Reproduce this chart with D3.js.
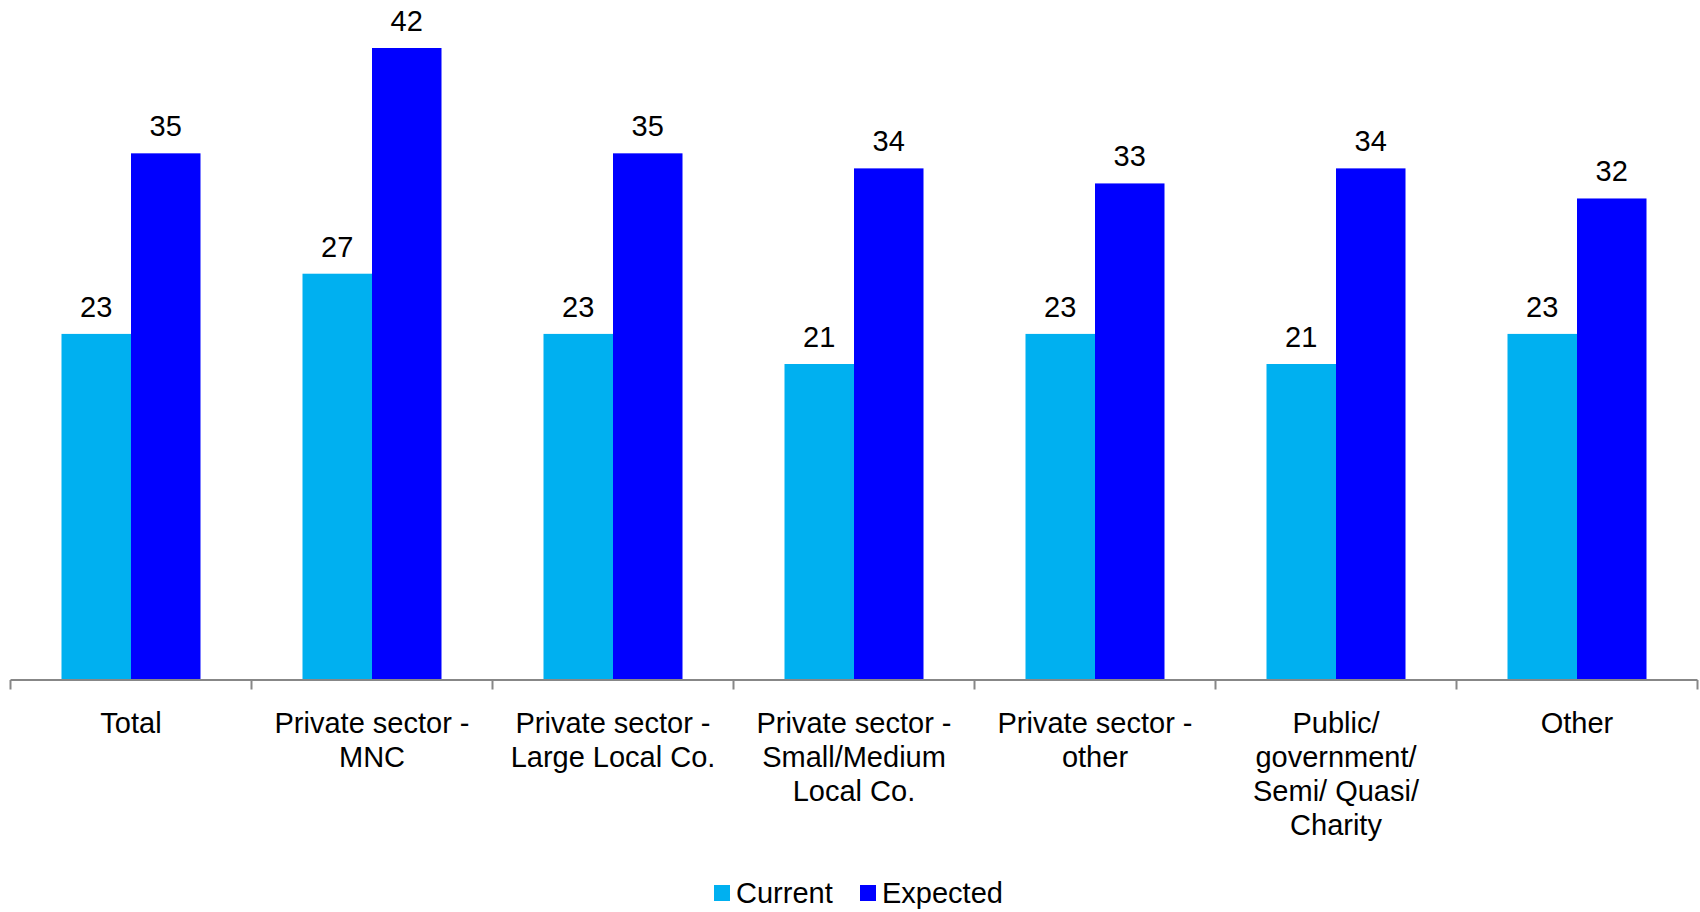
<!DOCTYPE html>
<html>
<head>
<meta charset="utf-8">
<script src="https://cdn.jsdelivr.net/npm/d3@7"></script>
<style>
  html, body { margin: 0; padding: 0; background: #ffffff; }
  svg { display: block; font-family: "Liberation Sans", Arial, sans-serif; }
</style>
</head>
<body>
<svg id="chart" width="1700" height="912"></svg>
<script>
// Sector categories (each label split into its display lines)
const categories = [
  "Total",
  "Private sector - MNC",
  "Private sector - Large Local Co.",
  "Private sector - Small/Medium Local Co.",
  "Private sector - other",
  "Public/ government/ Semi/ Quasi/ Charity",
  "Other"
];
const categoryLines = [
  ["Total"],
  ["Private sector -", "MNC"],
  ["Private sector -", "Large Local Co."],
  ["Private sector -", "Small/Medium", "Local Co."],
  ["Private sector -", "other"],
  ["Public/", "government/", "Semi/ Quasi/", "Charity"],
  ["Other"]
];
const seriesNames = ["Current", "Expected"];
const currentValues = [23, 27, 23, 21, 23, 21, 23];
const expectedValues = [35, 42, 35, 34, 33, 34, 32];
const seriesColors = ["#00B0F0", "#0000FF"];

const rows = categories.map((c, i) => ({
  category: c,
  values: [
    { series: seriesNames[0], value: currentValues[i] },
    { series: seriesNames[1], value: expectedValues[i] }
  ]
}));

const svg = d3.select("#chart");

const baseY = 680;
const x0 = d3.scaleBand().domain(categories).range([10.5, 1697.5]).paddingInner(0).paddingOuter(0);
const step = x0.bandwidth();
const groupWidth = 139;
const x1 = d3.scaleBand().domain(seriesNames)
  .range([(step - groupWidth) / 2, (step + groupWidth) / 2]).padding(0);
const y = d3.scaleLinear().domain([0, 42]).range([baseY, 48]);
const color = d3.scaleOrdinal().domain(seriesNames).range(seriesColors);

// Bars
const groups = svg.append("g").selectAll("g.group")
  .data(rows).join("g")
  .attr("class", "group")
  .attr("transform", d => `translate(${x0(d.category)},0)`);

groups.selectAll("rect")
  .data(d => d.values).join("rect")
  .attr("x", d => x1(d.series))
  .attr("y", d => y(d.value))
  .attr("width", x1.bandwidth())
  .attr("height", d => y(0) - y(d.value))
  .attr("fill", d => color(d.series));

// Value labels above the bars
groups.selectAll("text.value")
  .data(d => d.values).join("text")
  .attr("class", "value")
  .attr("x", d => x1(d.series) + x1.bandwidth() / 2)
  .attr("y", d => y(d.value) - 17)
  .attr("text-anchor", "middle")
  .attr("font-size", 29)
  .attr("fill", "#000")
  .text(d => d.value);

// Category axis: baseline with ticks at group boundaries
const axisG = svg.append("g");
axisG.append("line")
  .attr("x1", x0.range()[0]).attr("x2", x0.range()[1])
  .attr("y1", baseY).attr("y2", baseY)
  .attr("stroke", "#878787").attr("stroke-width", 2);

const boundaries = categories.map(c => x0(c)).concat([x0.range()[1]]);
axisG.selectAll("line.tick")
  .data(boundaries).join("line")
  .attr("class", "tick")
  .attr("x1", d => d).attr("x2", d => d)
  .attr("y1", baseY).attr("y2", baseY + 9.5)
  .attr("stroke", "#878787").attr("stroke-width", 2);

// Category labels
axisG.selectAll("text.cat")
  .data(categories).join("text")
  .attr("class", "cat")
  .attr("x", d => x0(d) + step / 2)
  .attr("y", 733)
  .attr("text-anchor", "middle")
  .attr("font-size", 29)
  .attr("fill", "#000")
  .each(function(d, i) {
    const t = d3.select(this);
    categoryLines[i].forEach((line, j) => {
      t.append("tspan")
        .attr("x", x0(d) + step / 2)
        .attr("y", 733 + j * 34)
        .text(line);
    });
  });

// Legend
const legend = svg.append("g");
const legendX = [714, 860];
seriesNames.forEach((s, i) => {
  legend.append("rect")
    .attr("x", legendX[i]).attr("y", 885)
    .attr("width", 16).attr("height", 16)
    .attr("fill", color(s));
  legend.append("text")
    .attr("x", legendX[i] + 22).attr("y", 903)
    .attr("font-size", 29)
    .attr("fill", "#000")
    .text(s);
});
</script>
</body>
</html>
